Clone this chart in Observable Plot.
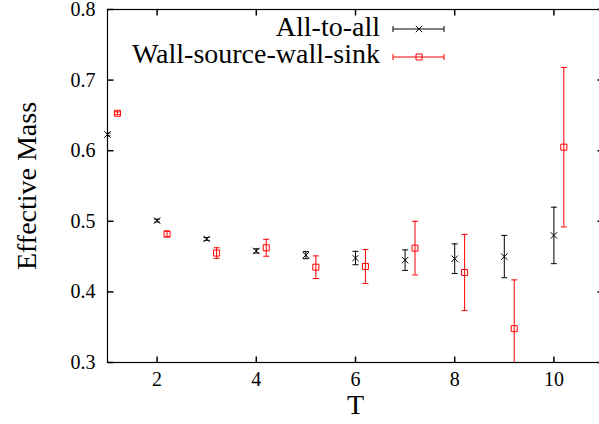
<!DOCTYPE html>
<html>
<head>
<meta charset="utf-8">
<script src="https://cdn.jsdelivr.net/npm/d3@7"></script>
<script src="https://cdn.jsdelivr.net/npm/@observablehq/plot@0.6"></script>
<style>
  html, body { margin: 0; padding: 0; background: white; overflow: hidden; }
</style>
</head>
<body>
<div id="chart"></div>
<script>
// ---- data ----
const seriesNames = ["All-to-all", "Wall-source-wall-sink"];
const tAll  = [1, 2, 3, 4, 5, 6, 7, 8, 9, 10];
const mAll  = [0.623, 0.501, 0.475, 0.458, 0.452, 0.448, 0.445, 0.447, 0.450, 0.480];
const eAll  = [0.002, 0.002, 0.002, 0.003, 0.005, 0.0095, 0.0145, 0.021, 0.030, 0.040];
const tWall = [1.2, 2.2, 3.2, 4.2, 5.2, 6.2, 7.2, 8.2, 9.2, 10.2];
const mWall = [0.653, 0.482, 0.455, 0.4625, 0.435, 0.436, 0.462, 0.4275, 0.348, 0.605];
const eWall = [0.002, 0.004, 0.0075, 0.012, 0.016, 0.024, 0.038, 0.054, 0.069, 0.113];
const xTicks = [2, 4, 6, 8, 10];
const yTicks = [0.3, 0.4, 0.5, 0.6, 0.7, 0.8];
const xLabel = "T";
const yLabel = "Effective Mass";

const allData  = tAll.map((t, i) => ({T: t, m: mAll[i], e: eAll[i]}));
const wallData = tWall.map((t, i) => ({T: t, m: mWall[i], e: eWall[i]}));

const BLACK = "#000000", RED = "#ff0000";
const FONT = "'Liberation Serif', 'Times New Roman', serif";

const lineSym = (x1, y1, x2, y2) => ({draw(ctx) { ctx.moveTo(x1, y1); ctx.lineTo(x2, y2); }});
const capSym = lineSym(-3, 0, 3, 0);

function errorMarks(data, color, symbol, r) {
  return [
    Plot.ruleX(data, {x: "T", y1: d => d.m - d.e, y2: d => d.m + d.e, stroke: color, strokeWidth: 1, clip: true}),
    Plot.dot(data, {x: "T", y: d => d.m - d.e, symbol: capSym, stroke: color, fill: "none", strokeWidth: 1, clip: true}),
    Plot.dot(data, {x: "T", y: d => d.m + d.e, symbol: capSym, stroke: color, fill: "none", strokeWidth: 1, clip: true}),
    Plot.dot(data, {x: "T", y: "m", symbol, r, stroke: color, fill: "none", strokeWidth: 1})
  ];
}

const chart = Plot.plot({
  width: 599,
  height: 424,
  marginLeft: 107,
  marginRight: -4,
  marginTop: 9,
  marginBottom: 62,
  style: {fontFamily: FONT, fontSize: "20px", background: "white", color: "black", overflow: "hidden"},
  x: {domain: [1, 11], ticks: xTicks, tickSize: 0, tickPadding: 9, tickFormat: d => String(d), label: null},
  y: {domain: [0.3, 0.8], ticks: yTicks, tickSize: 0, tickPadding: 12, tickFormat: d3.format(".1f"), label: null},
  marks: [
    // inward ticks on all four sides
    Plot.dot(yTicks, {y: d => d, frameAnchor: "left", symbol: lineSym(0, 0, 6, 0), stroke: BLACK, fill: "none"}),
    Plot.dot(yTicks, {y: d => d, frameAnchor: "right", symbol: lineSym(0, 0, -6, 0), stroke: BLACK, fill: "none"}),
    Plot.dot(xTicks, {x: d => d, frameAnchor: "bottom", symbol: lineSym(0, 0, 0, -6), stroke: BLACK, fill: "none"}),
    Plot.dot(xTicks, {x: d => d, frameAnchor: "top", symbol: lineSym(0, 0, 0, 6), stroke: BLACK, fill: "none"}),
    ...errorMarks(allData, BLACK, "times", 3),
    ...errorMarks(wallData, RED, "square", 3.4),
    Plot.frame({stroke: BLACK, strokeWidth: 1.2}),
    Plot.text([yLabel], {text: d => d, frameAnchor: "left", dx: -80, rotate: -90, textAnchor: "middle", lineAnchor: "middle", fontSize: 28, fill: BLACK}),
    Plot.text([xLabel], {text: d => d, frameAnchor: "bottom", dy: 43, textAnchor: "middle", lineAnchor: "middle", fontSize: 28, fill: BLACK})
  ]
});

// ---- legend (gnuplot style, inside top) ----
const svg = d3.select(chart);
const legend = svg.append("g").attr("font-family", FONT);
const entries = [
  {name: seriesNames[0], color: BLACK, symbol: d3.symbolTimes, size: 3 * 3 * Math.PI, y: 29, base: 36},
  {name: seriesNames[1], color: RED, symbol: d3.symbolSquare, size: 3.4 * 3.4 * Math.PI, y: 57, base: 63}
];
for (const e of entries) {
  legend.append("text").attr("x", 380).attr("y", e.base).attr("text-anchor", "end")
    .attr("font-size", 28).attr("fill", BLACK).text(e.name);
  legend.append("line").attr("x1", 393).attr("x2", 444).attr("y1", e.y).attr("y2", e.y).attr("stroke", e.color);
  legend.append("line").attr("x1", 393).attr("x2", 393).attr("y1", e.y - 3).attr("y2", e.y + 3).attr("stroke", e.color);
  legend.append("line").attr("x1", 444).attr("x2", 444).attr("y1", e.y - 3).attr("y2", e.y + 3).attr("stroke", e.color);
  legend.append("path").attr("transform", `translate(419,${e.y})`)
    .attr("d", d3.symbol(e.symbol, e.size)()).attr("fill", "none").attr("stroke", e.color);
}

document.getElementById("chart").appendChild(chart);
</script>
</body>
</html>
